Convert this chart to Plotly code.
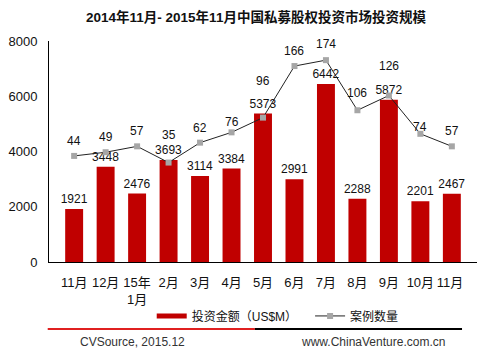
import plotly.graph_objects as go

# ---- data ----
categories = ["11月", "12月", "15年<br>1月", "2月", "3月", "4月", "5月",
              "6月", "7月", "8月", "9月", "10月", "11月 "]
amount_usd_m = [1921, 3448, 2476, 3693, 3114, 3384, 5373, 2991, 6442, 2288, 5872, 2201, 2467]
case_count = [44, 49, 57, 35, 62, 76, 96, 166, 174, 106, 126, 74, 57]
y_ticks = [0, 2000, 4000, 6000, 8000]

title_text = "2014年11月- 2015年11月中国私募股权投资市场投资规模"
bar_name = "投资金额（US$M）"
line_name = "案例数量"
source_text = "CVSource, 2015.12"
site_text = "www.ChinaVenture.com.cn"

# label vertical offsets (px) for case-count labels (style only)
count_label_shift = [15, 15, 15, 28, 15, 10, 37, 15, 16, 17, 30, 7, 15]

FONT = "Arial, 'Liberation Sans', 'Noto Sans CJK SC', sans-serif"
BAR_RED = "#C00000"

fig = go.Figure()

fig.add_trace(go.Bar(
    x=categories, y=amount_usd_m, name=bar_name,
    marker=dict(color=BAR_RED, line=dict(width=0)),
    text=[str(v) for v in amount_usd_m], textposition="outside",
    constraintext="none",
    textfont=dict(size=12, color="#111", family=FONT),
    cliponaxis=False, showlegend=False, legendgroup="bar",
))
# legend proxy for bars (flat red swatch)
fig.add_trace(go.Scatter(
    x=[None], y=[None], mode="lines", name=bar_name,
    line=dict(color=BAR_RED, width=5), legendgroup="bar", legend="legend",
))
fig.add_trace(go.Scatter(
    x=categories, y=case_count, name=line_name, yaxis="y2",
    mode="lines+markers",
    line=dict(color="#222222", width=1),
    marker=dict(symbol="square", size=6, color="#A6A6A6"),
    cliponaxis=False, legend="legend2",
))

for cat, cnt, sh in zip(categories, case_count, count_label_shift):
    fig.add_annotation(x=cat, y=cnt, yref="y2", text=str(cnt), showarrow=False,
                       yshift=sh, font=dict(size=12, color="#111", family=FONT))

# footer lines and texts
fig.add_shape(type="line", xref="paper", yref="paper", x0=-0.003, x1=0.481,
              y0=-0.303, y1=-0.303, line=dict(color="#E02020", width=2))
fig.add_shape(type="line", xref="paper", yref="paper", x0=0.481, x1=0.965,
              y0=-0.303, y1=-0.303, line=dict(color="#000000", width=2))
fig.add_annotation(xref="paper", yref="paper", x=0.067, y=-0.361, xanchor="left",
                   yanchor="middle", text=source_text, showarrow=False,
                   font=dict(size=12, color="#333", family=FONT))
fig.add_annotation(xref="paper", yref="paper", x=0.583, y=-0.361, xanchor="left",
                   yanchor="middle", text=site_text, showarrow=False,
                   font=dict(size=12, color="#333", family=FONT))

legend_style = dict(orientation="h", y=-0.244, xanchor="left", yanchor="middle",
                    font=dict(size=12), bgcolor="rgba(0,0,0,0)")

fig.update_layout(
    width=492, height=356,
    margin=dict(l=41, r=23, t=33, b=102, pad=0, autoexpand=False),
    paper_bgcolor="white", plot_bgcolor="white",
    font=dict(family=FONT, size=12, color="#111"),
    title=dict(text="<b>" + title_text + "</b>", x=0.504, xanchor="center",
               y=0.975, yanchor="middle", font=dict(size=13.5, color="#111", family=FONT)),
    bargap=0.43,
    xaxis=dict(type="category", showline=True, linecolor="black", linewidth=1,
               ticks="", showgrid=False, tickfont=dict(size=13), ticklabelstandoff=8,
               tickangle=0, automargin=False, zeroline=False, fixedrange=True),
    yaxis=dict(range=[0, 8000], tickvals=y_ticks, showline=True, linecolor="black",
               linewidth=1, ticks="", showgrid=False, zeroline=False, automargin=False,
               tickfont=dict(size=13), ticklabelstandoff=8),
    yaxis2=dict(range=[-100, 200], overlaying="y", side="right", visible=False,
                showgrid=False, zeroline=False),
    legend=dict(x=0.24, **legend_style),
    legend2=dict(x=0.61, **legend_style),
    showlegend=True,
)

fig.write_html("out.html")
